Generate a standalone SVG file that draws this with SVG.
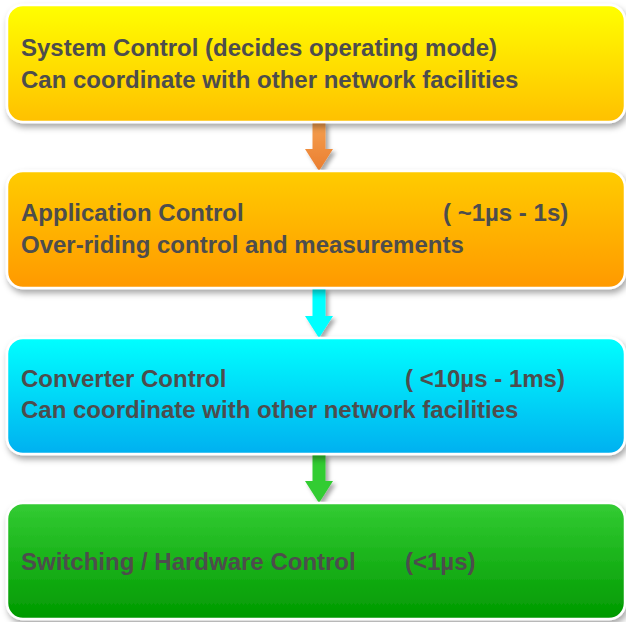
<svg xmlns="http://www.w3.org/2000/svg" width="626" height="622" viewBox="0 0 626 622">
  <defs>
    <linearGradient id="g1" x1="0" y1="0" x2="0" y2="1">
      <stop offset="0" stop-color="#ffff00"/>
      <stop offset="1" stop-color="#ffc000"/>
    </linearGradient>
    <linearGradient id="g2" x1="0" y1="0" x2="0" y2="1">
      <stop offset="0" stop-color="#ffcc00"/>
      <stop offset="1" stop-color="#ff9900"/>
    </linearGradient>
    <linearGradient id="g3" x1="0" y1="0" x2="0" y2="1">
      <stop offset="0" stop-color="#00ffff"/>
      <stop offset="1" stop-color="#00b0f0"/>
    </linearGradient>
    <linearGradient id="g4" x1="0" y1="0" x2="0" y2="1">
      <stop offset="0" stop-color="#33cc33"/>
      <stop offset="1" stop-color="#009900"/>
    </linearGradient>
    <linearGradient id="ga1" x1="0" y1="0" x2="0" y2="1">
      <stop offset="0" stop-color="#f5a050"/>
      <stop offset="1" stop-color="#ea7e30"/>
    </linearGradient>
    <filter id="sh" x="-5%" y="-10%" width="112%" height="130%">
      <feDropShadow dx="2" dy="4" stdDeviation="3" flood-color="#000" flood-opacity="0.35"/>
    </filter>
    <filter id="ash" x="-50%" y="-20%" width="220%" height="150%">
      <feDropShadow dx="3" dy="3" stdDeviation="2" flood-color="#000" flood-opacity="0.35"/>
    </filter>
  </defs>
  <style>
    .box { stroke: #ffffff; stroke-width: 2.5; filter: url(#sh); }
    .t { font-family: "Liberation Sans", Arial, sans-serif; font-weight: bold; font-size: 24px; fill: #4d4d4d; }
  </style>

  <g id="connectors">
    <polygon points="312.5,122 325.5,122 325.5,149 333,149 319,171 305,149 312.5,149" fill="url(#ga1)" filter="url(#ash)"/>
    <polygon points="312.5,288 325.5,288 325.5,316 333,316 319,338 305,316 312.5,316" fill="#00ffff" filter="url(#ash)"/>
    <polygon points="312.5,454 325.5,454 325.5,481 333,481 319,503 305,481 312.5,481" fill="#33cc33" filter="url(#ash)"/>
  </g>

  <g id="system-control">
    <rect class="box" x="7" y="5" width="618" height="117" rx="16" fill="url(#g1)"/>
    <text class="t" x="21" y="56">System Control (decides operating mode)</text>
    <text class="t" x="21" y="88">Can coordinate with other network facilities</text>
  </g>

  <g id="application-control">
    <rect class="box" x="7" y="171" width="618" height="117" rx="16" fill="url(#g2)"/>
    <text class="t" x="21" y="221">Application Control</text>
    <text class="t" x="443" y="221">( ~1µs - 1s)</text>
    <text class="t" x="21" y="253">Over-riding control and measurements</text>
  </g>

  <g id="converter-control">
    <rect class="box" x="7" y="338" width="618" height="116" rx="16" fill="url(#g3)"/>
    <text class="t" x="21" y="387">Converter Control</text>
    <text class="t" x="405" y="387">( &lt;10µs - 1ms)</text>
    <text class="t" x="21" y="418">Can coordinate with other network facilities</text>
  </g>

  <g id="switching-control">
    <rect class="box" x="7" y="503" width="618" height="116" rx="16" fill="url(#g4)"/>
    <text class="t" x="21" y="570">Switching / Hardware Control</text>
    <text class="t" x="405" y="570">(&lt;1µs)</text>
  </g>
</svg>
